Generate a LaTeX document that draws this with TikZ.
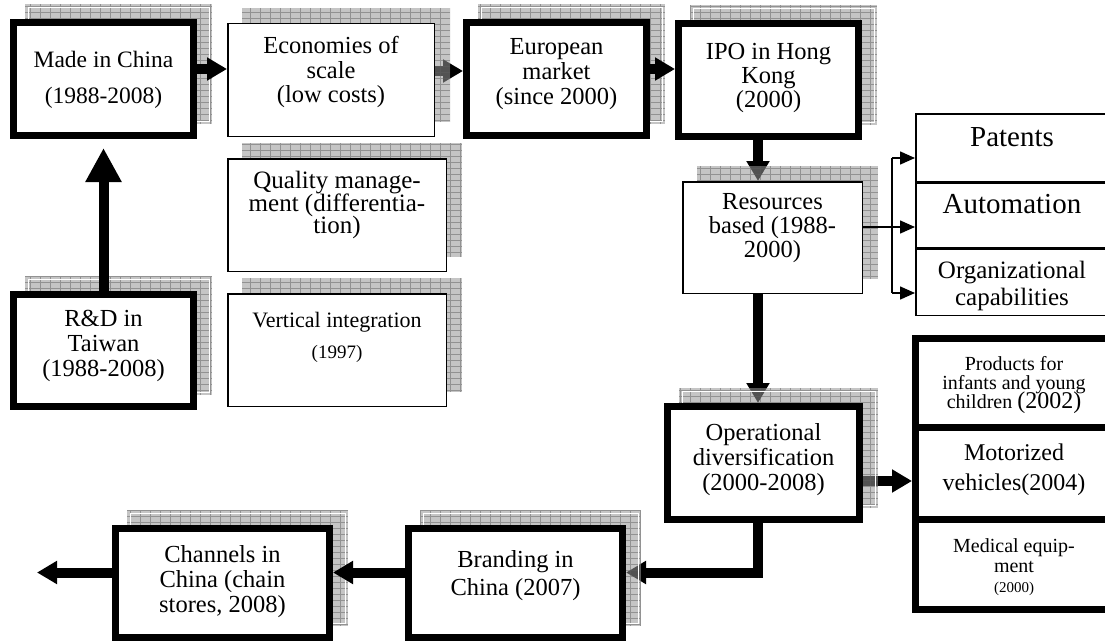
\documentclass[tikz,border=0pt]{standalone}
\usepackage{fontspec}
\setmainfont{Liberation Serif}
\usetikzlibrary{arrows.meta,calc}
\pgfdeclarelayer{low}
\pgfdeclarelayer{shadow}
\pgfdeclarelayer{top}
\pgfsetlayers{low,shadow,main,top}
\definecolor{shbg}{RGB}{150,150,150}
\definecolor{shln}{RGB}{95,95,95}
\newcommand\fsz[2]{\fontsize{#1}{#2}\selectfont\lineskiplimit=-100pt\relax}
\tikzset{
  thickbox/.style={draw=black, fill=white, line width=7pt, inner sep=0pt},
  thinbox/.style={draw=black, fill=white, line width=1.5pt, inner sep=0pt},
  txt/.style={align=center, inner sep=0pt, anchor=north},
  bigarr/.style={line width=10pt, -{Triangle[length=20pt,width=22pt]}},
  hugearr/.style={line width=10pt, -{Triangle[length=34pt,width=34pt]}},
  thinarr/.style={line width=1.5pt, -{Triangle[length=15pt,width=13pt]}},
  thinln/.style={line width=1.5pt},
}
\newcommand\myshadow[2]{%
  \begin{scope}
    \clip ([shift={(15,-15)}]#1.south west) rectangle ([shift={(15,-15)}]#1.north east);
    \fill[shbg, fill opacity=0.55] ([shift={(15,-15)}]#1.south west) rectangle ([shift={(15,-15)}]#1.north east);
    \draw[shln, draw opacity=0.5, line width=0.7pt, xstep=10pt, ystep=6pt] ([shift={(15,-15)}]#1.south west) grid ([shift={(15,-15)}]#1.north east);
    \ifnum#2=1 \draw[white, line width=0.9pt] ([shift={(18,-18)}]#1.south west) rectangle ([shift={(12,-12)}]#1.north east);\fi
  \end{scope}}
\begin{document}
\begin{tikzpicture}[x=1pt,y=-1pt]
\useasboundingbox (0,0) rectangle (1105,642);
% ---------- boxes ----------
\node[thickbox, minimum width=180pt, minimum height=113pt] (made) at (103.5,79) {};
\node[thinbox, minimum width=206.5pt, minimum height=112.5pt] (econ) at (331,80) {};
\node[thickbox, minimum width=180pt, minimum height=113pt] (euro) at (556.5,79) {};
\node[thickbox, minimum width=180pt, minimum height=113pt] (ipo) at (768.5,80) {};
\node[thinbox, minimum width=218.5pt, minimum height=112.5pt] (qual) at (337,215) {};
\node[thinbox, minimum width=218.5pt, minimum height=112.5pt] (vert) at (337,350) {};
\node[thickbox, minimum width=180pt, minimum height=112pt] (rd) at (103.5,350.5) {};
\node[thinbox, minimum width=179.5pt, minimum height=111.5pt] (res) at (772.5,237.5) {};
\node[thickbox, minimum width=192pt, minimum height=113pt] (oper) at (763.5,463) {};
\node[thickbox, minimum width=214pt, minimum height=109pt] (brand) at (515.5,583) {};
\node[thickbox, minimum width=214pt, minimum height=109pt] (chan) at (222.5,583) {};
% right columns
\node[thinbox, minimum width=192.5pt, minimum height=67.5pt] (pat) at (1012,147.5) {};
\node[thinbox, minimum width=192.5pt, minimum height=64.5pt] (auto) at (1012,215) {};
\node[thinbox, minimum width=192.5pt, minimum height=66.5pt] (org) at (1012,282) {};
\node[thickbox, minimum width=197pt, minimum height=89pt] (prod) at (1014,383) {};
\node[thickbox, minimum width=197pt, minimum height=91.5pt] (mot) at (1014,473.25) {};
\node[thickbox, minimum width=197pt, minimum height=90.5pt] (med) at (1014,564.25) {};
% ---------- texts ----------
\node[txt, font=\fsz{23.5}{25}] (madeT) at (103.5,51) {Made in China\\[11pt](1988-2008)};
\node[txt, font=\fsz{24.5}{24.5}] (econT) at (331,36.3) {Economies of\\scale\\(low costs)};
\node[txt, font=\fsz{24.5}{25}] (euroT) at (556.5,38.3) {European\\market\\(since 2000)};
\node[txt, font=\fsz{24.5}{24}] (ipoT) at (768.5,43.3) {IPO in Hong\\Kong\\(2000)};
\node[txt, font=\fsz{25}{22.5}] (qualT) at (337,171) {Quality manage-\\ment (differentia-\\tion)};
\node[txt, font=\fsz{22}{25}] (vertT) at (337,312) {Vertical integration\\[6pt]{\fsz{19}{25}(1997)}};
\node[txt, font=\fsz{24.5}{25}] (rdT) at (103.5,310.3) {R\&D in\\Taiwan\\(1988-2008)};
\node[txt, font=\fsz{24.5}{24}] (resT) at (772.5,193.3) {Resources\\based (1988-\\2000)};
\node[txt, font=\fsz{24.5}{25}] (operT) at (763.5,423.3) {Operational\\diversification\\(2000-2008)};
\node[txt, font=\fsz{24.5}{28}] (brandT) at (515.5,550.3) {Branding in\\China (2007)};
\node[txt, font=\fsz{24.5}{25}] (chanT) at (222.5,545.3) {Channels in\\China (chain\\stores, 2008)};
\node[txt, font=\fsz{29}{30}] (patT) at (1012,127.8) {Patents};
\node[txt, font=\fsz{29}{30}] (autoT) at (1012,193.8) {Automation};
\node[txt, font=\fsz{25}{27}] (orgT) at (1012,261) {Organizational\\capabilities};
\node[txt, font=\fsz{20}{19}] (prodT) at (1014,356.4) {Products for\\infants and young\\children {\fsz{24}{19}(2002)}};
\node[txt, font=\fsz{24}{30}] (motT) at (1014,443.7) {Motorized\\vehicles(2004)};
\node[txt, font=\fsz{20}{20}] (medT) at (1014,538.4) {Medical equip-\\ment\\{\fsz{15}{20}(2000)}};
% ---------- shadows ----------
\begin{pgfonlayer}{shadow}
\myshadow{made}{1}
\myshadow{econ}{0}
\myshadow{euro}{1}
\myshadow{ipo}{1}
\myshadow{qual}{0}
\myshadow{vert}{0}
\myshadow{rd}{1}
\myshadow{res}{0}
\myshadow{oper}{1}
\myshadow{brand}{1}
\myshadow{chan}{1}
\end{pgfonlayer}
% ---------- connectors under shadows ----------
\begin{pgfonlayer}{low}
\draw[bigarr] ([yshift=9pt]econ.east) -- ([yshift=9pt]econ.east -| euro.west);
\draw[bigarr] ([xshift=-10.5pt]ipo.south) -- ([xshift=-10.5pt]ipo.south |- res.north);
\draw[bigarr] ([xshift=-14.5pt]res.south) -- ([xshift=-14.5pt]res.south |- oper.north);
\draw[bigarr] ([yshift=-18pt]oper.east) -- ([yshift=-18pt]oper.east -| mot.west);
\draw[bigarr] ([xshift=-5.5pt]oper.south) |- ([yshift=10.5pt]brand.east);
\end{pgfonlayer}
% ---------- connectors on top ----------
\coordinate (exit) at (37,572.5);
\coordinate (bx) at (892,0);
\begin{pgfonlayer}{top}
\draw[hugearr, shorten >=9pt] (rd.north) -- (made.south);
\draw[bigarr] ([yshift=10pt]made.east) -- ([yshift=10pt]made.east -| econ.west);
\draw[bigarr] ([yshift=10pt]euro.east) -- ([yshift=10pt]euro.east -| ipo.west);
\draw[bigarr] ([yshift=10.5pt]brand.west) -- ([yshift=10.5pt]chan.east);
\draw[bigarr] ([yshift=10.5pt]chan.west) -- (exit);
\draw[thinln] ([yshift=10.5pt]res.east) -- ([yshift=10.5pt]res.east -| bx);
\draw[thinln] ([yshift=-10.5pt]pat.west -| bx) -- ([yshift=-11pt]org.west -| bx);
\draw[thinarr] ([yshift=-10.5pt]pat.west -| bx) -- ([yshift=-10.5pt]pat.west);
\draw[thinarr] ([yshift=-12pt]auto.west -| bx) -- ([yshift=-12pt]auto.west);
\draw[thinarr] ([yshift=-11pt]org.west -| bx) -- ([yshift=-11pt]org.west);
\end{pgfonlayer}
\end{tikzpicture}
\end{document}
